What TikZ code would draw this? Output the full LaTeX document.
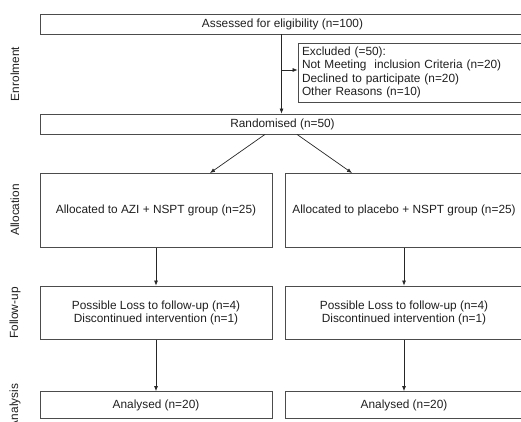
\documentclass[tikz,border=0pt]{standalone}
\usepackage{fontspec}
\setmainfont{Liberation Sans}
\usetikzlibrary{arrows.meta}
\begin{document}
\begin{tikzpicture}[x=1pt,y=-1pt,
  every node/.style={font=\fontsize{11.85}{13.5}\selectfont, text=black!88},
  box/.style={draw=black!70, line width=0.8pt, rectangle, inner sep=0pt, align=center},
  arr/.style={draw=black!85, line width=0.7pt, -{Latex[length=5pt,width=4pt]}},
  side/.style={rotate=90, anchor=center}]
\useasboundingbox (0,0) rectangle (521,422);
\clip (0,0) rectangle (521,422);
% boxes
\node[box, minimum width=485pt, minimum height=20pt] (assess) at (282.5,24) {Assessed for eligibility (n=100)};
\node[box, minimum width=227pt, minimum height=59pt, text width=219pt, align=left, inner xsep=4pt] (excl) at (411.5,72.5)
  {Excluded (=50):\\Not Meeting\ \ inclusion Criteria (n=20)\\Declined to participate (n=20)\\Other Reasons (n=10)};
\node[box, minimum width=485pt, minimum height=20pt] (rand) at (282.5,124) {Randomised (n=50)};
\node[box, minimum width=232pt, minimum height=74pt] (allocL) at (156,210.4) {Allocated to AZI + NSPT group (n=25)};
\node[box, minimum width=238pt, minimum height=74pt] (allocR) at (404,210.4) {Allocated to placebo + NSPT group (n=25)};
\node[box, minimum width=232pt, minimum height=53.5pt] (fupL) at (156,312.75) {Possible Loss to follow-up (n=4)\\Discontinued intervention (n=1)};
\node[box, minimum width=238pt, minimum height=53.5pt] (fupR) at (404,312.75) {Possible Loss to follow-up (n=4)\\Discontinued intervention (n=1)};
\node[box, minimum width=232pt, minimum height=27pt] (anaL) at (156,405) {Analysed (n=20)};
\node[box, minimum width=238pt, minimum height=27pt] (anaR) at (404,405) {Analysed (n=20)};
% side labels
\node[side] (lenr) at (15,74) {Enrolment};
\node[side] (lalloc) at (15,210) {Allocation};
\node[side] (lfup) at (15,313) {Follow-up};
\node[side] (lana) at (15,406) {Analysis};
% connectors
\coordinate (vx) at ([xshift=-1pt]assess.south);
\draw[arr] (vx) -- ([xshift=-1pt]rand.north);
\draw[arr] ([yshift=2.5pt]excl.west -| vx) -- ([yshift=2.5pt]excl.west);
\draw[arr] ([xshift=-17.5pt]rand.south) -- ([xshift=54pt]allocL.north);
\draw[arr] ([xshift=14.5pt]rand.south) -- ([xshift=-52pt]allocR.north);
\draw[arr] (allocL.south) -- (fupL.north);
\draw[arr] (allocR.south) -- (fupR.north);
\draw[arr] (fupL.south) -- (anaL.north);
\draw[arr] (fupR.south) -- (anaR.north);
\end{tikzpicture}
\end{document}
